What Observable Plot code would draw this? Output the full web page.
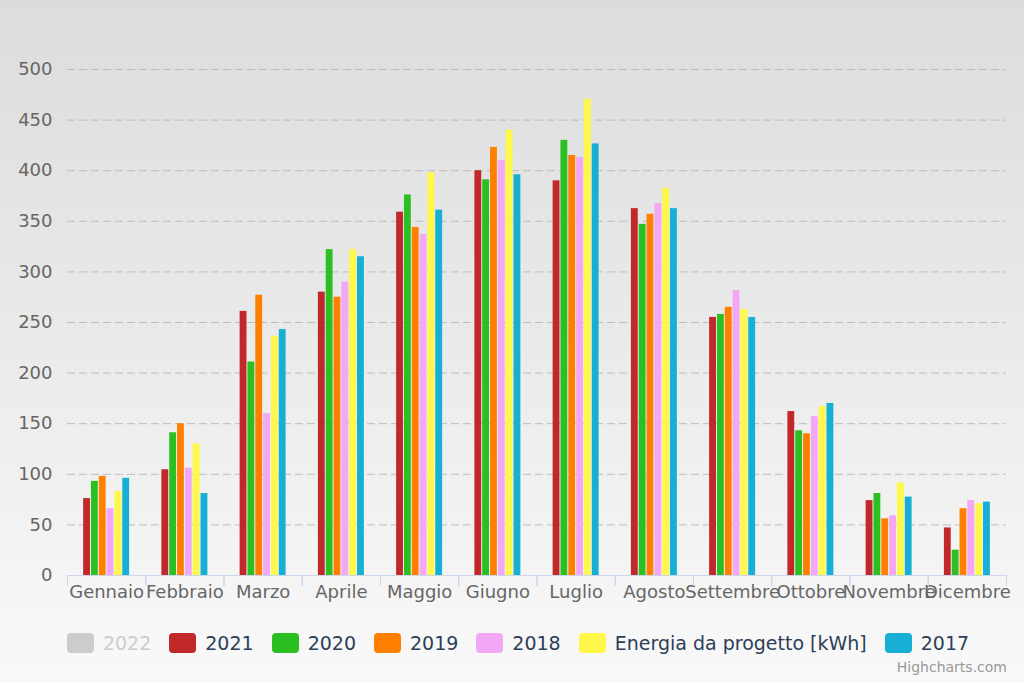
<!DOCTYPE html>
<html>
<head>
<meta charset="utf-8">
<script src="https://cdn.jsdelivr.net/npm/d3@7"></script>
<script src="https://cdn.jsdelivr.net/npm/@observablehq/plot@0.6"></script>
<style>
  html, body { margin: 0; padding: 0; }
  body {
    width: 1024px; height: 683px; overflow: hidden; position: relative;
    background: linear-gradient(to bottom, #dcdcdc 0%, #f9f9f9 100%);
    font-family: "DejaVu Sans", sans-serif;
  }
  #chart { position: absolute; left: 0; top: 0; width: 1024px; height: 610px; }
  #chart svg { position: absolute; left: 0; top: 0; }
  #legend {
    position: absolute; left: 0; top: 633px; width: 1036px; height: 20px;
    display: flex; justify-content: center; align-items: center;
    font-size: 19px; color: #2d3f58;
  }
  .item { display: flex; align-items: center; margin: 0 9px; }
  .sw { width: 27px; height: 20px; border-radius: 4px; margin-right: 9px; }
  #credit {
    position: absolute; right: 17px; top: 659px; font-size: 14px; color: #999;
  }
</style>
</head>
<body>
<div id="chart"></div>
<div id="legend"></div>
<div id="credit">Highcharts.com</div>
<script>
const months = ["Gennaio", "Febbraio", "Marzo", "Aprile", "Maggio", "Giugno",
  "Luglio", "Agosto", "Settembre", "Ottobre", "Novembre", "Dicembre"];

const series = ["2021", "2020", "2019", "2018", "Energia da progetto [kWh]", "2017"];
const colors = ["#c0282a", "#2cbf22", "#ff8000", "#f3a8f5", "#fff84a", "#17b0d4"];

const hiddenSeries = "2022";
const hiddenColor = "#cccccc";

const v2021     = [76, 104.5, 261, 280, 359, 400, 390, 362.5, 255, 162, 74, 47];
const v2020     = [93, 141, 211, 322, 376, 391, 430, 347, 258, 143, 81, 25];
const v2019     = [98, 150, 277, 275, 344, 423, 415, 357, 265, 140, 56, 66];
const v2018     = [66, 106, 160, 290, 337, 410, 413, 367.5, 281.5, 157, 59, 74];
const vProgetto = [83, 130, 236, 322, 398, 440, 470.5, 382.5, 263, 167, 91.5, 71];
const v2017     = [96, 81, 243, 315, 361, 396, 426.5, 362.5, 255, 170, 77.5, 72.5];

const yTicks = [0, 50, 100, 150, 200, 250, 300, 350, 400, 450, 500];

const valuesBySeries = [v2021, v2020, v2019, v2018, vProgetto, v2017];
const data = [];
months.forEach((m, i) => {
  series.forEach((s, k) => data.push({month: m, series: s, value: valuesBySeries[k][i]}));
});

const W = 1024, H = 610, mt = 69, mb = 35, ml = 67, mr = 18;
const font = {background: "transparent", color: "#666", fontFamily: "'DejaVu Sans', sans-serif", fontSize: "18px", overflow: "visible"};

const back = Plot.plot({
  width: W, height: H, marginTop: mt, marginBottom: mb, marginLeft: ml, marginRight: mr,
  style: font,
  y: {domain: [0, 500], ticks: yTicks, tickSize: 0, tickPadding: 15, label: null},
  marks: [
    Plot.ruleY(yTicks.slice(1), {stroke: "#bdbdbd", strokeDasharray: "8,4"}),
    Plot.ruleY([0], {stroke: "#ccd6eb"})
  ]
});

const front = Plot.plot({
  width: W, height: H, marginTop: mt, marginBottom: mb, marginLeft: ml, marginRight: mr,
  style: font,
  fx: {domain: months, padding: 0, round: false, tickSize: 0, tickPadding: 10, label: null},
  x: {domain: series, paddingInner: 0.125, paddingOuter: 2.06, round: false, axis: null},
  y: {domain: [0, 500], axis: null},
  color: {domain: series, range: colors},
  marks: [
    Plot.barY(data, {fx: "month", x: "series", y: "value", fill: "series"}),
    Plot.frame({anchor: "left", stroke: "#ccd6eb", insetTop: H - mt - mb, insetBottom: -10}),
    Plot.frame({anchor: "right", stroke: "#ccd6eb", insetTop: H - mt - mb, insetBottom: -10})
  ]
});

const chart = document.getElementById("chart");
chart.appendChild(back);
chart.appendChild(front);

const legend = document.getElementById("legend");
const items = [{name: hiddenSeries, color: hiddenColor, hidden: true}]
  .concat(series.map((s, k) => ({name: s, color: colors[k], hidden: false})));
items.forEach(it => {
  const d = document.createElement("div");
  d.className = "item";
  const sw = document.createElement("div");
  sw.className = "sw";
  sw.style.background = it.color;
  const t = document.createElement("span");
  t.textContent = it.name;
  if (it.hidden) t.style.color = hiddenColor;
  d.appendChild(sw);
  d.appendChild(t);
  legend.appendChild(d);
});
</script>
</body>
</html>
